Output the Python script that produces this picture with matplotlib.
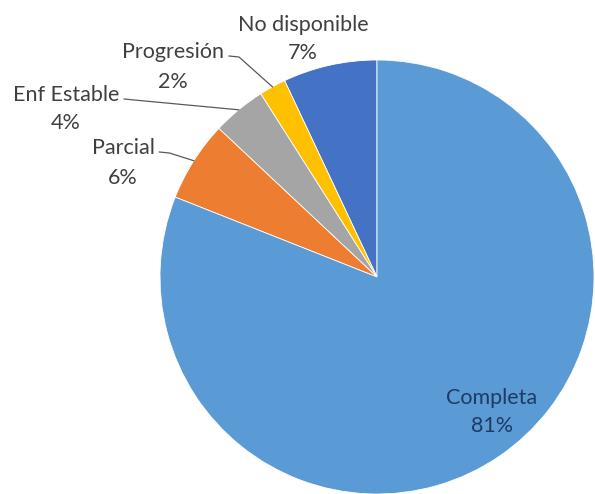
import numpy as np
import matplotlib
matplotlib.use("Agg")
import matplotlib.pyplot as plt

# Response categories and their shares (%)
labels = ["No disponible", "Progresión", "Enf Estable", "Parcial", "Completa"]
values = [7, 2, 4, 6, 81]
colors = ["#4472C4", "#FFC000", "#A5A5A5", "#ED7D31", "#5B9BD5"]

W, H = 595, 494
fig = plt.figure(figsize=(W / 100, H / 100), dpi=100)
ax = fig.add_axes([0, 0, 1, 1])

cx, cy, r = 377, H - 277, 217
wedges, _ = ax.pie(values, colors=colors, startangle=90, counterclock=True,
                   center=(cx, cy), radius=r, frame=True,
                   wedgeprops=dict(linewidth=0.6, edgecolor="white"))
ax.set_xlim(0, W)
ax.set_ylim(0, H)
ax.set_aspect("equal")
ax.axis("off")

font = "Lato"
fs = 15.5
txt_col = "#404040"

# label block centres: x, name-line y, percent-line y (pixels from the top)
label_pos = {
    "No disponible": (303, 25, 53),
    "Progresión": (173, 52, 82),
    "Enf Estable": (66, 95, 123),
    "Parcial": (123, 148, 178),
    "Completa": (492, 398, 426),
}
leader = {"Progresión", "Enf Estable", "Parcial"}

fig.canvas.draw()
renderer = fig.canvas.get_renderer()

for lab, val, w in zip(labels, values, wedges):
    x, y1, y2 = label_pos[lab]
    col = "#1F3A64" if lab == "Completa" else txt_col
    t1 = ax.text(x, H - y1, lab, ha="center", va="center", fontsize=fs,
                 family=font, color=col)
    ax.text(x, H - y2, f"{val}%", ha="center", va="center", fontsize=fs,
            family=font, color=col)
    if lab in leader:
        bb = t1.get_window_extent(renderer=renderer)
        x0 = bb.x1 + 5
        ystart = H - y1 - 4
        mid = np.deg2rad((w.theta1 + w.theta2) / 2)
        ex, ey = cx + r * np.cos(mid), cy + r * np.sin(mid)
        kx, ky = x0 + 10, ystart - 1
        ax.plot([x0, kx, ex], [ystart, ky, ey], color="#595959", lw=0.9,
                solid_joinstyle="round")

fig.savefig("out.png", dpi=100)
